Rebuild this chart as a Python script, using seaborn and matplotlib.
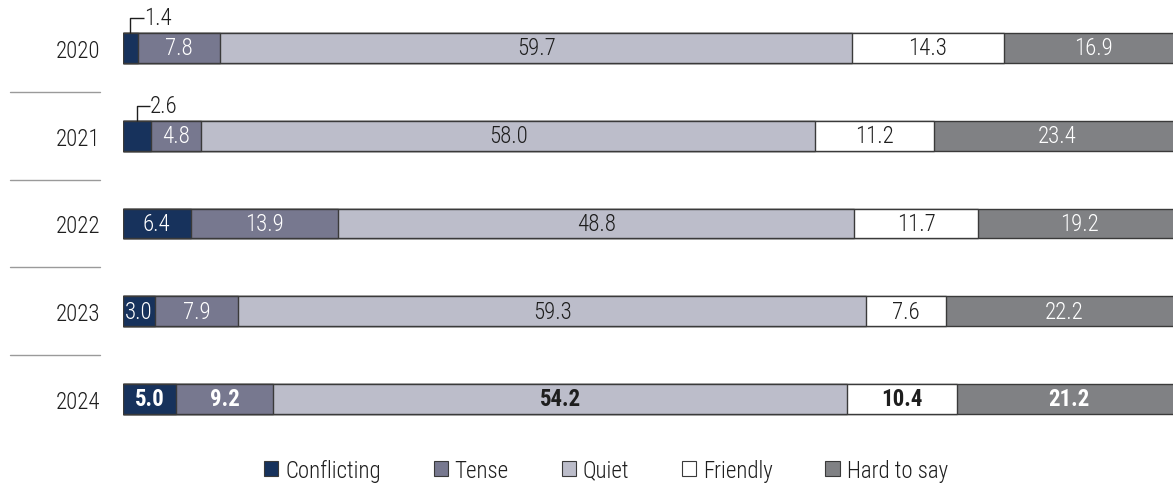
import matplotlib
matplotlib.use("Agg")
import matplotlib.pyplot as plt
import matplotlib.transforms as mtransforms
from matplotlib.patches import Patch
import numpy as np
import pandas as pd
import seaborn as sns

years = ["2020", "2021", "2022", "2023", "2024"]
categories = ["Conflicting", "Tense", "Quiet", "Friendly", "Hard to say"]
conflicting = [1.4, 2.6, 6.4, 3.0, 5.0]
tense = [7.8, 4.8, 13.9, 7.9, 9.2]
quiet = [59.7, 58.0, 48.8, 59.3, 54.2]
friendly = [14.3, 11.2, 11.7, 7.6, 10.4]
hard_to_say = [16.9, 23.4, 19.2, 22.2, 21.2]

colors = ["#17325c", "#77788f", "#bcbdca", "#ffffff", "#808184"]
text_colors = ["white", "white", "#1e1e1e", "#1e1e1e", "white"]

sns.set_theme(style="white")
plt.rcParams["font.family"] = ["Roboto Condensed", "Barlow Semi Condensed", "Roboto", "DejaVu Sans"]
plt.rcParams["font.weight"] = 300

FS = 16.5

series = np.array([conflicting, tense, quiet, friendly, hard_to_say])
cum = np.cumsum(series, axis=0)
starts = cum - series

fig = plt.figure(figsize=(11.73, 4.89), dpi=100)
ax = fig.add_axes([123 / 1173, 1 - 440 / 489, 1 - 123 / 1173, 440 / 489])

bar_w = 0.34
# stacked bars drawn as overlaid cumulative totals, widest first
for i in reversed(range(len(categories))):
    df = pd.DataFrame({"year": years, "value": cum[i]})
    sns.barplot(data=df, x="value", y="year", orient="y", color=colors[i],
                width=bar_w, edgecolor="#3a3a3a", linewidth=1.0,
                saturation=1, ax=ax, order=years)

# the bars run past the right edge of the figure
ax.set_xlim(0, 99.2)
ax.set_ylim(4.456, -0.558)
ax.set_xlabel("")
ax.set_ylabel("")
ax.set_xticks([])
sns.despine(ax=ax, left=True, bottom=True)
ax.tick_params(axis="y", length=0, pad=16.5, labelsize=FS, labelcolor="#1e1e1e")
for lab in ax.get_yticklabels():
    lab.set_fontweight(300)

# segment value labels
for r, yr in enumerate(years):
    bold = yr == "2024"
    for i in range(len(categories)):
        v = series[i, r]
        if i == 0 and v < 2.8:
            continue
        ax.text(starts[i, r] + v / 2, r, f"{v:.1f}", ha="center", va="center",
                fontsize=FS, color=text_colors[i],
                fontweight="bold" if bold else 300)

# callouts for the thin segments
for r in range(len(years)):
    v = series[0, r]
    if v >= 2.8:
        continue
    xc = v / 2
    top = r - bar_w / 2
    yk = top - 0.17
    ax.plot([xc, xc, xc + 1.25], [top, yk, yk], color="#1e1e1e", lw=1.0,
            clip_on=False, solid_capstyle="butt")
    ax.text(xc + 1.25, yk - 0.01, f"{v:.1f}", ha="left", va="center",
            fontsize=FS, color="#1e1e1e", fontweight=300)

# separators between years on the left
trans = mtransforms.blended_transform_factory(fig.transFigure, ax.transData)
for r in range(len(years) - 1):
    ax.plot([10 / 1173, 100 / 1173], [r + 0.5, r + 0.5], color="#9a9a9a",
            lw=1.0, transform=trans, clip_on=False)

handles = [Patch(facecolor=c, edgecolor="#3a3a3a", linewidth=0.8) for c in colors]
leg = fig.legend(handles, categories, loc="center", bbox_to_anchor=(606 / 1173, 1 - 471 / 489),
                 ncol=5, frameon=False, fontsize=FS, handlelength=0.62, handleheight=0.62,
                 handletextpad=0.3, columnspacing=2.3, labelcolor="#1e1e1e")
for t in leg.get_texts():
    t.set_fontweight(300)

fig.savefig("out.png", dpi=100)
